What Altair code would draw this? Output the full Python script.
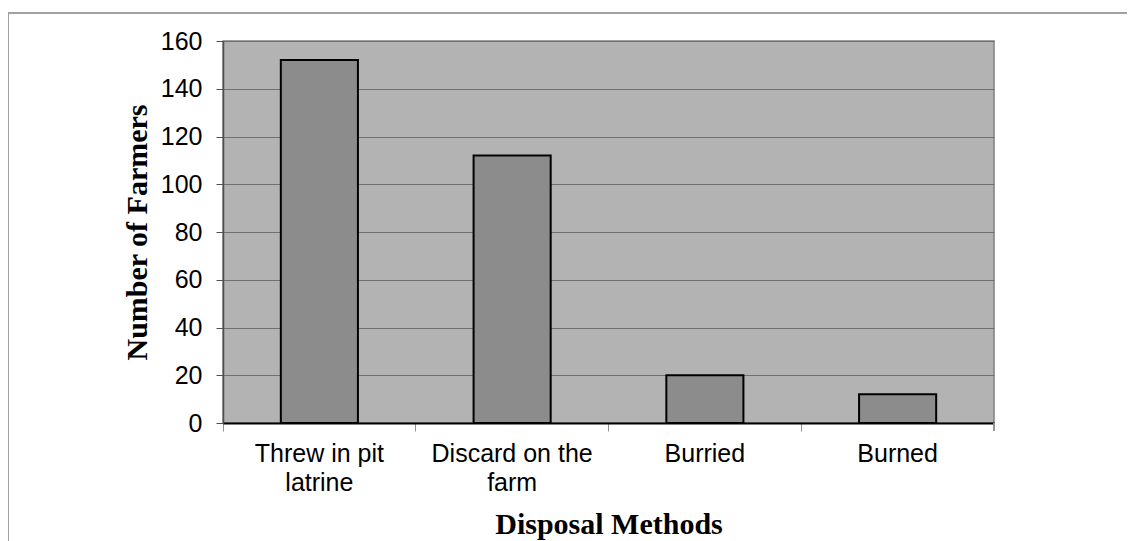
import altair as alt
import pandas as pd

methods = ["Threw in pit|latrine", "Discard on the|farm", "Burried", "Burned"]
farmers = [152, 112, 20, 12]
y_ticks = [0, 20, 40, 60, 80, 100, 120, 140, 160]

df = pd.DataFrame({"method": methods, "farmers": farmers})

W, H = 771, 382

bars = alt.Chart(df).mark_bar(
    width=alt.RelativeBandSize(0.4), fill="#8c8c8c", stroke="#000000", strokeWidth=2
).encode(
    x=alt.X("method:N", sort=methods,
            scale=alt.Scale(paddingInner=0, paddingOuter=0),
            axis=alt.Axis(title="Disposal Methods", labelAngle=0, bandPosition=0,
                          labelExpr="split(datum.label, '|')",
                          labelFont="Liberation Sans", labelFontSize=25, labelColor="#000000",
                          labelLineHeight=29, labelPadding=10, labelBaseline="top",
                          tickColor="#909090", tickSize=8, tickWidth=1,
                          domainColor="#000000", domainWidth=2,
                          titleFont="Liberation Serif", titleFontSize=30, titleFontWeight="bold",
                          titleColor="#000000", titleX=W / 2, titleY=110,
                          titleBaseline="alphabetic", titleAlign="center")),
    y=alt.Y("farmers:Q", scale=alt.Scale(domain=[0, 160], nice=False),
            axis=alt.Axis(title="Number of Farmers", values=y_ticks, grid=True,
                          gridColor="#707070", gridWidth=1,
                          labelFont="Liberation Sans", labelFontSize=25, labelColor="#000000",
                          labelPadding=14, tickColor="#505050", tickSize=7,
                          domainColor="#505050", domainWidth=1.5,
                          titleFont="Liberation Serif", titleFontSize=30, titleFontWeight="bold",
                          titleColor="#000000", titleX=-86, titleY=H / 2, titleAngle=270,
                          titleAlign="center", titleBaseline="middle")),
)

end_tick = alt.Chart(df).mark_rule(color="#909090", strokeWidth=1).encode(
    x=alt.value(W), y=alt.value(H), y2=alt.value(H + 8)
)

frame_top = alt.Chart(df).mark_rule(color="#a0a0a0", strokeWidth=1.5).encode(
    x=alt.value(-215), x2=alt.value(912), y=alt.value(-28)
)
frame_left = alt.Chart(df).mark_rule(color="#a0a0a0", strokeWidth=1.5).encode(
    x=alt.value(-215), y=alt.value(-28), y2=alt.value(500)
)

chart = alt.layer(bars, end_tick, frame_top, frame_left).properties(
    width=W, height=H,
    autosize=alt.AutoSizeParams(type="none"),
    padding={"left": 215, "top": 33, "right": 133, "bottom": 118},
).configure_view(fill="#b3b3b3", stroke="#808080", strokeWidth=1.5)

chart.save("out.html", embed_options={"renderer": "svg", "actions": False})
